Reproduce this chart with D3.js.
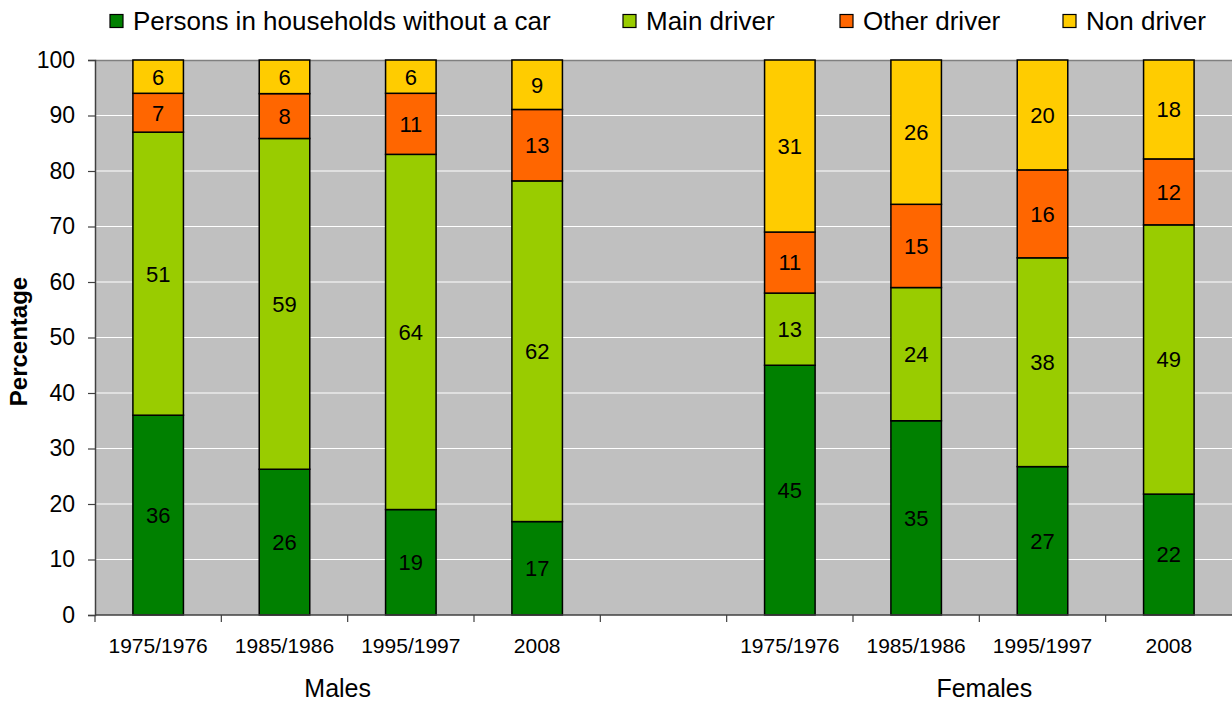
<!DOCTYPE html>
<html>
<head>
<meta charset="utf-8">
<script src="https://cdn.jsdelivr.net/npm/d3@7"></script>
<style>
  body { margin: 0; background: #fff; }
  svg { display: block; font-family: "Liberation Sans", Arial, sans-serif; }
</style>
</head>
<body>
<div id="chart"></div>
<script>
// Chart data
const groups = ["Males", "Females"];
const periods = ["1975/1976", "1985/1986", "1995/1997", "2008"];
const seriesNames = ["Persons in households without a car", "Main driver", "Other driver", "Non driver"];
const colors = ["#008000", "#99CC00", "#FF6600", "#FFCC00"];
const noCar = [36, 26, 19, 17, 45, 35, 27, 22];
const mainDriver = [51, 59, 64, 62, 13, 24, 38, 49];
const otherDriver = [7, 8, 11, 13, 11, 15, 16, 12];
const nonDriver = [6, 6, 6, 9, 31, 26, 20, 18];
const yTicks = [0, 10, 20, 30, 40, 50, 60, 70, 80, 90, 100];

const width = 1232;
const height = 702;
const margin = { top: 60, right: 0, bottom: 87, left: 95 };
const innerW = width - margin.left - margin.right;
const innerH = height - margin.top - margin.bottom;

const svg = d3.select("#chart").append("svg")
  .attr("width", width)
  .attr("height", height);

// build rows; an empty slot sits between the two groups
const keys = ["noCar", "mainDriver", "otherDriver", "nonDriver"];
const rows = [];
const slots = [];
groups.forEach((g, gi) => {
  periods.forEach((p, pi) => {
    const i = gi * periods.length + pi;
    const id = g + "|" + p;
    rows.push({ id, period: p, noCar: noCar[i], mainDriver: mainDriver[i], otherDriver: otherDriver[i], nonDriver: nonDriver[i] });
    slots.push(id);
  });
  if (gi === 0) slots.push("gap");
});

const stacked = d3.stack().keys(keys).offset(d3.stackOffsetExpand)(rows);

const x = d3.scaleBand().domain(slots).range([0, innerW]).paddingInner(0.6).paddingOuter(0.3);
const y = d3.scaleLinear().domain([0, 100]).range([innerH, 0]);

const g = svg.append("g").attr("transform", `translate(${margin.left},${margin.top})`);

// plot background
g.append("rect").attr("width", innerW).attr("height", innerH).attr("fill", "#C0C0C0");
g.append("line").attr("x1", 0).attr("x2", innerW).attr("y1", 0.5).attr("y2", 0.5)
  .attr("stroke", "#808080").attr("stroke-width", 1.5);

// gridlines
g.selectAll(".grid").data(yTicks.filter(d => d > 0 && d < 100)).enter().append("line")
  .attr("x1", 0).attr("x2", innerW)
  .attr("y1", d => y(d)).attr("y2", d => y(d))
  .attr("stroke", "#fff").attr("stroke-width", 1.2);

// bars
const layer = g.selectAll(".layer").data(stacked).enter().append("g")
  .attr("fill", (d, i) => colors[i]);

layer.selectAll("rect").data(d => d).enter().append("rect")
  .attr("x", d => x(d.data.id))
  .attr("width", x.bandwidth())
  .attr("y", d => y(d[1] * 100))
  .attr("height", d => y(d[0] * 100) - y(d[1] * 100))
  .attr("stroke", "#000").attr("stroke-width", 1.5);

layer.selectAll("text").data((d, i) => d.map(v => ({ v, key: keys[i] }))).enter().append("text")
  .attr("x", d => x(d.v.data.id) + x.bandwidth() / 2)
  .attr("y", d => y((d.v[0] + d.v[1]) * 50))
  .attr("dy", "0.36em")
  .attr("text-anchor", "middle")
  .attr("font-size", 22)
  .attr("fill", "#000")
  .text(d => d.v.data[d.key]);

// y axis
const yAxis = g.append("g").call(d3.axisLeft(y).tickValues(yTicks).tickSize(7).tickPadding(13));
yAxis.select(".domain").attr("stroke", "#404040").attr("stroke-width", 1.5);
yAxis.selectAll(".tick line").attr("stroke", "#404040").attr("stroke-width", 1.2);
yAxis.selectAll(".tick text").attr("font-size", 23).attr("fill", "#000")
  .attr("font-family", "Liberation Sans, Arial, sans-serif");

// x axis: ticks at slot boundaries
const step = x.step();
const x0 = x(slots[0]) - step * x.paddingInner() / 2;
const bounds = d3.range(slots.length).map(i => x0 + i * step);
const xAxisG = g.append("g").attr("transform", `translate(0,${innerH})`);
xAxisG.append("line").attr("x1", 0).attr("x2", innerW).attr("y1", 0).attr("y2", 0)
  .attr("stroke", "#404040").attr("stroke-width", 1.5);
xAxisG.selectAll(".xt").data(bounds).enter().append("line")
  .attr("x1", d => d).attr("x2", d => d).attr("y1", 0).attr("y2", 7)
  .attr("stroke", "#404040").attr("stroke-width", 1.2);
xAxisG.selectAll(".xl").data(rows).enter().append("text")
  .attr("x", d => x(d.id) + x.bandwidth() / 2)
  .attr("y", 38)
  .attr("text-anchor", "middle")
  .attr("font-size", 21)
  .text(d => d.period);

// group labels
groups.forEach((grp, gi) => {
  const first = x(grp + "|" + periods[0]);
  const last = x(grp + "|" + periods[periods.length - 1]) + x.bandwidth();
  xAxisG.append("text")
    .attr("x", (first + last) / 2 - (gi === 0 ? 10 : -5))
    .attr("y", 82)
    .attr("text-anchor", "middle")
    .attr("font-size", 25)
    .text(grp);
});

// y title
svg.append("text")
  .attr("transform", `translate(27,${margin.top + innerH / 2 + 4}) rotate(-90)`)
  .attr("text-anchor", "middle")
  .attr("font-size", 24)
  .attr("font-weight", "bold")
  .text("Percentage");

// legend
const legendX = [110, 623, 840, 1063];
const legend = svg.append("g");
seriesNames.forEach((name, i) => {
  const item = legend.append("g").attr("transform", `translate(${legendX[i]},21)`);
  item.append("rect").attr("x", 0).attr("y", -6.5).attr("width", 13).attr("height", 13)
    .attr("fill", colors[i]).attr("stroke", "#000").attr("stroke-width", 1.2);
  item.append("text").attr("x", 23).attr("y", 0).attr("dy", "0.35em")
    .attr("font-size", 26).text(name);
});
</script>
</body>
</html>
